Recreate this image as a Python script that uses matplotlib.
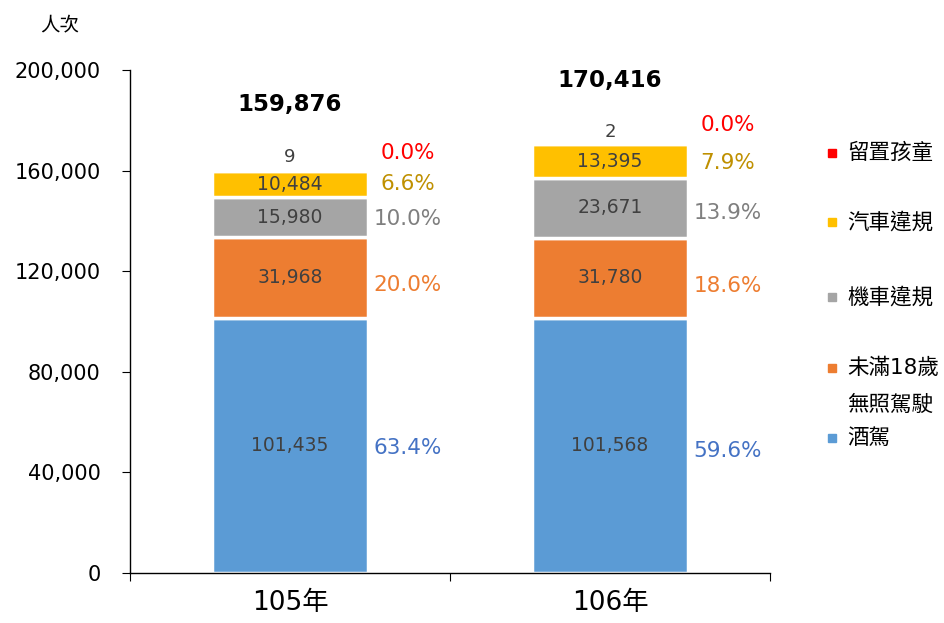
import matplotlib
matplotlib.use("Agg")
import matplotlib.pyplot as plt
from matplotlib.patches import Rectangle

plt.rcParams['font.family'] = ['DejaVu Sans', 'Noto Sans CJK TC']

categories = ['105年', '106年']
series_names = ['酒駕', '未滿18歲\n無照駕駛', '機車違規', '汽車違規', '留置孩童']
drunk = [101435, 101568]
underage = [31968, 31780]
moto = [15980, 23671]
car = [10484, 13395]
child = [9, 2]
totals = [159876, 170416]
pct_drunk = ['63.4%', '59.6%']
pct_underage = ['20.0%', '18.6%']
pct_moto = ['10.0%', '13.9%']
pct_car = ['6.6%', '7.9%']
pct_child = ['0.0%', '0.0%']
yticks = [0, 40000, 80000, 120000, 160000, 200000]

colors = ['#5B9BD5', '#ED7D31', '#A5A5A5', '#FFC000', '#FF0000']
pct_colors = ['#4472C4', '#ED7D31', '#7F7F7F', '#BF9000', '#FF0000']

fig = plt.figure(figsize=(9.45, 6.23), dpi=100)
ax = fig.add_axes([130/945, 50/623, 640/945, 503/623])

series = [drunk, underage, moto, car, child]
pcts = [pct_drunk, pct_underage, pct_moto, pct_car, pct_child]
x = list(range(len(categories)))
width = 0.485
bottoms = [0, 0]
centers = []
for vals, col in zip(series, colors):
    ax.bar(x, vals, width, bottom=bottoms, color=col, edgecolor='white', linewidth=2.5)
    centers.append([b + v / 2 for b, v in zip(bottoms, vals)])
    bottoms = [b + v for b, v in zip(bottoms, vals)]

txtcol = '#404040'
# inside value labels for first four series
for si in range(4):
    for i in x:
        ax.text(i, centers[si][i], f"{series[si][i]:,}", ha='center', va='center',
                fontsize=13.5, color=txtcol)
# child values above the stack, totals above that
child_off = [10, 9]
total_off = [48, 46]
for i in x:
    ax.annotate(f"{child[i]:,}", (i, bottoms[i]), xytext=(0, child_off[i]),
                textcoords='offset points', ha='center', va='center', fontsize=13, color=txtcol)
    ax.annotate(f"{totals[i]:,}", (i, totals[i]), xytext=(0, total_off[i]),
                textcoords='offset points', ha='center', va='center', fontsize=16.5,
                fontweight='bold', color='black')

# percentage labels to the right
pct_dy = [[-2, -4], [-5, -6], [-1, -4], [0, -1], [13, 14]]
pct_dx = [29, 29]
for si in range(5):
    for i in x:
        ax.annotate(pcts[si][i], (i + width / 2, centers[si][i]), xytext=(pct_dx[i], pct_dy[si][i]),
                    textcoords='offset points', ha='center', va='center', fontsize=15.5,
                    color=pct_colors[si])

ax.set_xlim(-0.5, 1.5)
ax.set_ylim(0, 200000)
ax.set_yticks(yticks)
ax.set_yticklabels([f"{v:,}" for v in yticks], fontsize=15)
ax.set_xticks([-0.5, 0.5, 1.5])
ax.set_xticklabels([])
ax.set_xticks(x, minor=True)
ax.set_xticklabels(categories, minor=True, fontsize=19)
ax.tick_params(axis='x', which='minor', length=0, pad=12)
ax.tick_params(axis='x', which='major', length=6, direction='out')
ax.tick_params(axis='y', length=6, direction='out', pad=15)
for s in ['top', 'right']:
    ax.spines[s].set_visible(False)
for s in ['left', 'bottom']:
    ax.spines[s].set_color('black')
    ax.spines[s].set_linewidth(1)
for lbl in ax.get_yticklabels():
    lbl.set_color('black')

fig.text(40/945, 1 - 25/623, '人次', fontsize=14, ha='left', va='center')

# legend (manual, reversed order)
leg_y = [153, 222, 297, 368, 438]
leg_series = [4, 3, 2, 1, 0]
for y, si in zip(leg_y, leg_series):
    yy = 1 - y / 623
    fig.patches.append(Rectangle((828/945, yy - 4/623), 8/945, 8/623, color=colors[si],
                                 transform=fig.transFigure, figure=fig))
    name = series_names[si]
    if '\n' in name:
        l1, l2 = name.split('\n')
        fig.text(847/945, yy, l1, fontsize=15.5, ha='left', va='center')
        fig.text(847/945, 1 - 405/623, l2, fontsize=15.5, ha='left', va='center')
    else:
        fig.text(847/945, yy, name, fontsize=15.5, ha='left', va='center')

fig.savefig('out.png', dpi=100)
